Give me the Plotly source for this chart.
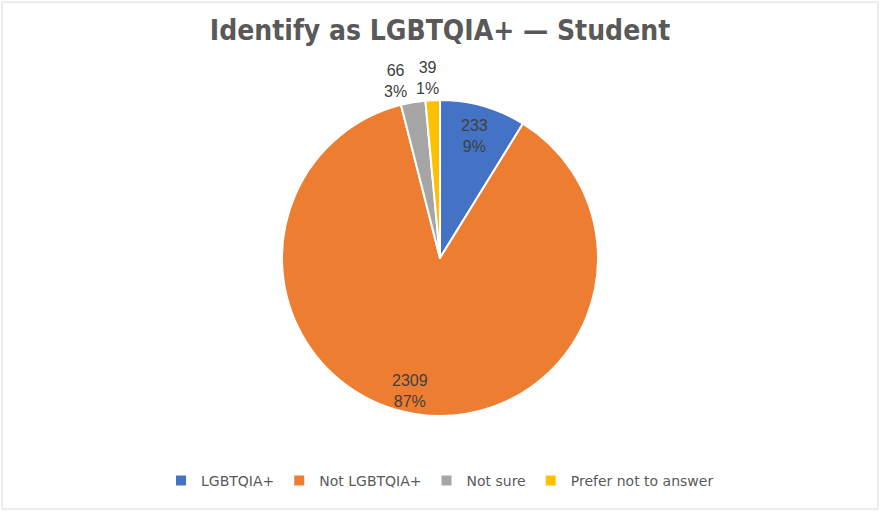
import math
import plotly.graph_objects as go

categories = ["LGBTQIA+", "Not LGBTQIA+", "Not sure", "Prefer not to answer"]
counts = [233, 2309, 66, 39]
pct_labels = ["9%", "87%", "3%", "1%"]
colors = ["#4472C4", "#ED7D31", "#A5A5A5", "#FFC000"]

W, H = 880, 512
CX, CY, R = 440, 258, 158          # pie centre / radius in pixels
label_radius = [0.8, 0.85, 1.14, 1.14]  # label distance as a fraction of R
label_xshift = [0, -10, -14, -4]        # small horizontal nudges of the labels

fig = go.Figure()

# hidden pixel-space axes for annotations and the frame
fig.add_trace(go.Scatter(x=[0, W], y=[0, H], mode="markers",
                         marker=dict(opacity=0), hoverinfo="skip", showlegend=False))

fig.add_trace(go.Pie(
    labels=categories,
    values=counts,
    sort=False,
    direction="clockwise",
    rotation=0,
    marker=dict(colors=colors, line=dict(color="white", width=2)),
    textinfo="none",
    domain=dict(x=[(CX - R) / W, (CX + R) / W], y=[(H - CY - R) / H, (H - CY + R) / H]),
    hoverinfo="label+value+percent",
))

total = sum(counts)
cum = 0
annotations = []
for cat, v, p, lr, xs in zip(categories, counts, pct_labels, label_radius, label_xshift):
    mid = (cum + v / 2) / total
    cum += v
    ang = 2 * math.pi * mid
    x = CX + lr * R * math.sin(ang)
    y = CY - lr * R * math.cos(ang)
    annotations.append(dict(
        x=x, y=y, xref="x", yref="y", text=f"{v}<br>{p}", showarrow=False,
        xanchor="center", yanchor="middle", align="center", xshift=xs,
        font=dict(family="Liberation Sans, Arial, sans-serif", size=16, color="#404040"),
    ))

fig.update_layout(
    width=W, height=H,
    margin=dict(l=0, r=0, t=0, b=0),
    paper_bgcolor="white",
    plot_bgcolor="rgba(0,0,0,0)",
    xaxis=dict(range=[0, W], visible=False, fixedrange=True, domain=[0, 1]),
    yaxis=dict(range=[H, 0], visible=False, fixedrange=True, domain=[0, 1]),
    title=dict(
        text="<b>Identify as LGBTQIA+ — Student</b>",
        x=0.5, xanchor="center", xref="paper",
        y=1 - 30 / H, yanchor="middle", yref="paper",
        font=dict(family="DejaVu Sans Condensed, DejaVu Sans, sans-serif", size=28, color="#595959"),
    ),
    showlegend=True,
    legend=dict(
        orientation="h",
        x=0.5, xanchor="center",
        y=1 - 481 / H, yanchor="middle",
        font=dict(family="DejaVu Sans, sans-serif", size=14, color="#595959"),
        itemclick=False, itemwidth=30,
    ),
    annotations=annotations,
    shapes=[dict(type="rect", xref="x", yref="y",
                 x0=2, x1=878, y0=2, y1=509,
                 line=dict(color="#D9D9D9", width=1), fillcolor="rgba(0,0,0,0)", layer="below")],
)

fig.write_html("out.html", config={"displayModeBar": False},
               post_script="document.body.style.margin='0px';document.body.style.overflow='hidden';")
